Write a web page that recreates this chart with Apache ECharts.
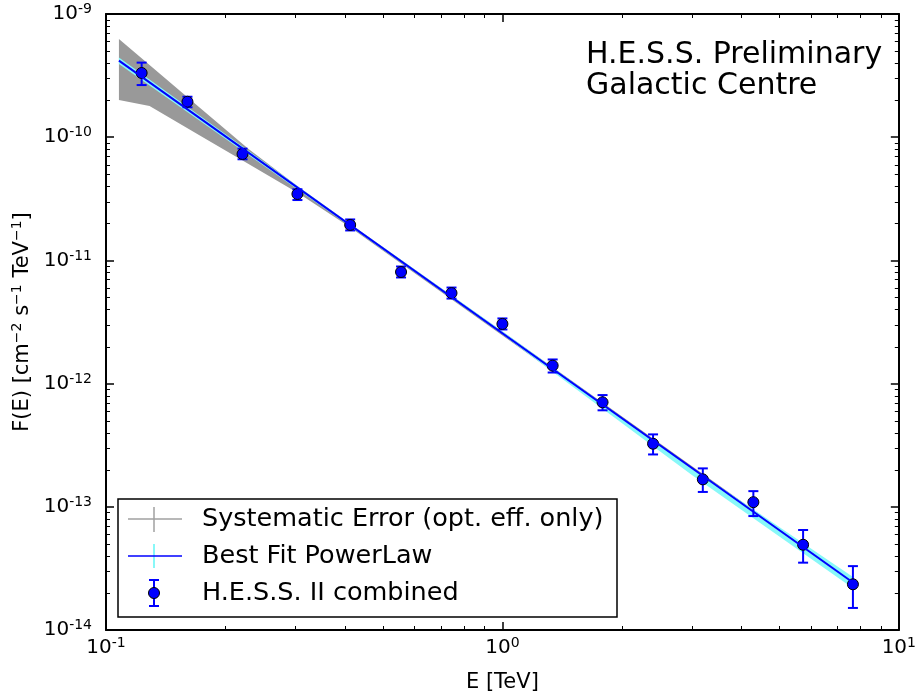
<!DOCTYPE html>
<html>
<head>
<meta charset="utf-8">
<script src="https://cdn.jsdelivr.net/npm/echarts@6/dist/echarts.min.js"></script>
<style>
  html, body { margin: 0; padding: 0; background: #fff; }
  #chart { width: 919px; height: 700px; }
</style>
</head>
<body>
<div id="chart"></div>
<script>
// H.E.S.S. II combined flux points (E in TeV, F in cm^-2 s^-1 TeV^-1)
const energy = [0.123, 0.1605, 0.221, 0.304, 0.413, 0.555, 0.744, 1.0, 1.339, 1.789, 2.399, 3.203, 4.296, 5.735, 7.66];
const flux = [3.32e-10, 1.94e-10, 7.31e-11, 3.46e-11, 1.94e-11, 8.05e-12, 5.43e-12, 3.05e-12, 1.40e-12, 7.05e-13, 3.25e-13, 1.67e-13, 1.09e-13, 4.92e-14, 2.35e-14];
const fluxHi = [4.03e-10, 2.13e-10, 8.07e-11, 3.78e-11, 2.15e-11, 8.92e-12, 6.02e-12, 3.38e-12, 1.57e-12, 8.07e-13, 3.87e-13, 2.05e-13, 1.34e-13, 6.48e-14, 3.30e-14];
const fluxLo = [2.65e-10, 1.75e-10, 6.62e-11, 3.09e-11, 1.75e-11, 7.27e-12, 4.90e-12, 2.75e-12, 1.23e-12, 6.07e-13, 2.66e-13, 1.32e-13, 8.41e-14, 3.52e-14, 1.51e-14];

// best fit power law (end points)
const fitE = [0.1078, 7.63];
const fitF = [4.18e-10, 2.45e-14];

// statistical band of the fit
const fitBandE = [0.1078, 0.4066, 1.0, 3.0, 7.63];
const fitBandHi = [4.44e-10, 2.05e-11, 2.66e-12, 2.08e-13, 2.72e-14];
const fitBandLo = [3.93e-10, 1.96e-11, 2.50e-12, 1.82e-13, 2.20e-14];

// systematic error band (opt. eff. only)
const sysE = [0.1078, 0.1288, 0.1716, 0.2289, 0.3050, 0.4066, 1.0, 7.63];
const sysHi = [6.27e-10, 3.85e-10, 1.76e-10, 8.02e-11, 3.98e-11, 2.05e-11, 2.65e-12, 2.55e-14];
const sysLo = [2.00e-10, 1.79e-10, 1.04e-10, 6.05e-11, 3.52e-11, 1.92e-11, 2.46e-12, 2.32e-14];

const FONT = 'DejaVu Sans';

const chart = echarts.init(document.getElementById('chart'), null, { renderer: 'canvas' });

function band(xs, hi, lo, color) {
    return {
        type: 'custom',
        silent: true,
        data: [[1, 1e-12]],
        encode: { x: 0, y: 1 },
        renderItem: function (params, api) {
            const pts = [];
            xs.forEach((e, i) => pts.push(api.coord([e, hi[i]])));
            for (let i = xs.length - 1; i >= 0; i--) pts.push(api.coord([xs[i], lo[i]]));
            return { type: 'polygon', shape: { points: pts }, style: { fill: color } };
        }
    };
}

// минорные деления на логарифмических осях
function minorValues(from, to) {
    const out = [];
    for (let p = from; p < to; p++) {
        for (let k = 2; k <= 9; k++) out.push(k * Math.pow(10, p));
    }
    return out;
}
const xMinor = minorValues(-1, 1);
const yMinor = minorValues(-14, -9);

function supLabel(v) {
    const exp = Math.round(Math.log10(v));
    return '{b|10}{s|' + exp + '}';
}

const labelRich = {
    b: { fontFamily: FONT, fontSize: 20, color: '#000' },
    s: { fontFamily: FONT, fontSize: 14, color: '#000', verticalAlign: 'bottom', padding: [0, 0, 9, 0] }
};

const axisCommon = {
    type: 'log',
    logBase: 10,
    axisLine: { show: true, lineStyle: { color: '#000', width: 2 } },
    axisTick: { show: true, inside: true, length: 8, lineStyle: { color: '#000', width: 1.5 } },
    splitLine: { show: false },
    minorTick: { show: false }
};

const option = {
    animation: false,
    backgroundColor: '#fff',
    grid: { left: 106, right: 12, top: 14, bottom: 70 },
    xAxis: [
        Object.assign({}, axisCommon, {
            min: 0.1, max: 10, splitNumber: 2,
            name: 'E [TeV]',
            nameLocation: 'middle',
            nameGap: 42,
            nameTextStyle: { fontFamily: FONT, fontSize: 21, color: '#000' },
            axisLabel: { margin: 6, formatter: supLabel, rich: labelRich }
        }),
        Object.assign({}, axisCommon, {
            position: 'top', min: 0.1, max: 10, splitNumber: 2,
            axisLabel: { show: false }
        })
    ],
    yAxis: [
        Object.assign({}, axisCommon, {
            min: 1e-14, max: 1e-9, splitNumber: 5,
            name: 'F(E) [cm{s|\u22122} s{s|\u22121} TeV{s|\u22121}]',
            nameLocation: 'middle',
            nameRotate: 90,
            nameGap: 72,
            nameTextStyle: {
                fontFamily: FONT, fontSize: 21, color: '#000',
                rich: {
                    s: { fontFamily: FONT, fontSize: 14, color: '#000', verticalAlign: 'bottom', padding: [0, 0, 9, 0] }
                }
            },
            axisLabel: { margin: 14, formatter: supLabel, rich: labelRich }
        }),
        Object.assign({}, axisCommon, {
            position: 'right', min: 1e-14, max: 1e-9, splitNumber: 5,
            axisLabel: { show: false }
        })
    ],
    series: [
        band(sysE, sysHi, sysLo, '#999999'),
        band(fitBandE, fitBandHi, fitBandLo, '#88f8f8'),
        {
            type: 'line',
            silent: true,
            data: fitE.map((e, i) => [e, fitF[i]]),
            showSymbol: false,
            symbol: 'none',
            lineStyle: { color: '#0000ff', width: 2 }
        },
        {
            type: 'custom',
            silent: true,
            data: energy.map((e, i) => [e, fluxLo[i], fluxHi[i]]),
            encode: { x: 0, y: [1, 2] },
            renderItem: function (params, api) {
                const lo = api.coord([api.value(0), api.value(1)]);
                const hi = api.coord([api.value(0), api.value(2)]);
                const st = { stroke: '#0000ff', lineWidth: 2 };
                return {
                    type: 'group',
                    children: [
                        { type: 'line', shape: { x1: lo[0], y1: lo[1], x2: hi[0], y2: hi[1] }, style: st },
                        { type: 'line', shape: { x1: lo[0] - 5, y1: lo[1], x2: lo[0] + 5, y2: lo[1] }, style: st },
                        { type: 'line', shape: { x1: hi[0] - 5, y1: hi[1], x2: hi[0] + 5, y2: hi[1] }, style: st }
                    ]
                };
            }
        },
        {
            type: 'scatter',
            silent: true,
            data: energy.map((e, i) => [e, flux[i]]),
            symbol: 'circle',
            symbolSize: 11,
            itemStyle: { color: '#0000ff', borderColor: '#000', borderWidth: 1, opacity: 1 }
        },
        {
            type: 'custom',
            silent: true,
            data: [[1, 1e-12]],
            encode: { x: 0, y: 1 },
            renderItem: function (params, api) {
                const cs = params.coordSys;
                const st = { stroke: '#000', lineWidth: 1 };
                const children = [];
                xMinor.forEach(v => {
                    const px = Math.round(api.coord([v, 1e-12])[0]) + 0.5;
                    children.push({ type: 'line', shape: { x1: px, y1: cs.y + cs.height, x2: px, y2: cs.y + cs.height - 4 }, style: st });
                    children.push({ type: 'line', shape: { x1: px, y1: cs.y, x2: px, y2: cs.y + 4 }, style: st });
                });
                yMinor.forEach(v => {
                    const py = Math.round(api.coord([1, v])[1]) + 0.5;
                    children.push({ type: 'line', shape: { x1: cs.x, y1: py, x2: cs.x + 4, y2: py }, style: st });
                    children.push({ type: 'line', shape: { x1: cs.x + cs.width, y1: py, x2: cs.x + cs.width - 4, y2: py }, style: st });
                });
                return { type: 'group', children: children };
            }
        }
    ],
    graphic: [
        {
            type: 'text', left: 586, top: 40,
            style: { text: 'H.E.S.S. Preliminary\nGalactic Centre', font: '30px "DejaVu Sans"', fill: '#000', lineHeight: 31 }
        },
        // легенда
        { type: 'rect', shape: { x: 118, y: 499, width: 499, height: 118 }, style: { fill: '#fff', stroke: '#000', lineWidth: 1.5 }, z: 100 },
        { type: 'line', shape: { x1: 128, y1: 519, x2: 182, y2: 519 }, style: { stroke: '#a0a0a0', lineWidth: 1.5 }, z: 101 },
        { type: 'line', shape: { x1: 154, y1: 507, x2: 154, y2: 532 }, style: { stroke: '#a0a0a0', lineWidth: 1.5 }, z: 101 },
        { type: 'line', shape: { x1: 154, y1: 544, x2: 154, y2: 568 }, style: { stroke: '#88f8f8', lineWidth: 2 }, z: 101 },
        { type: 'line', shape: { x1: 128, y1: 556, x2: 182, y2: 556 }, style: { stroke: '#0000ff', lineWidth: 1.5 }, z: 102 },
        { type: 'line', shape: { x1: 154, y1: 580, x2: 154, y2: 606 }, style: { stroke: '#0000ff', lineWidth: 2 }, z: 101 },
        { type: 'line', shape: { x1: 149, y1: 580, x2: 159, y2: 580 }, style: { stroke: '#0000ff', lineWidth: 2 }, z: 101 },
        { type: 'line', shape: { x1: 149, y1: 606, x2: 159, y2: 606 }, style: { stroke: '#0000ff', lineWidth: 2 }, z: 101 },
        { type: 'circle', shape: { cx: 154, cy: 593, r: 5.5 }, style: { fill: '#0000ff', stroke: '#000', lineWidth: 1 }, z: 102 },
        { type: 'text', x: 202, y: 519, style: { text: 'Systematic Error (opt. eff. only)', font: '25.5px "DejaVu Sans"', fill: '#000', verticalAlign: 'middle' }, z: 101 },
        { type: 'text', x: 202, y: 556, style: { text: 'Best Fit PowerLaw', font: '25.5px "DejaVu Sans"', fill: '#000', verticalAlign: 'middle' }, z: 101 },
        { type: 'text', x: 202, y: 593, style: { text: 'H.E.S.S. II combined', font: '25.5px "DejaVu Sans"', fill: '#000', verticalAlign: 'middle' }, z: 101 }
    ]
};

chart.setOption(option);
window.addEventListener('resize', function () { chart.resize(); });
</script>
</body>
</html>
